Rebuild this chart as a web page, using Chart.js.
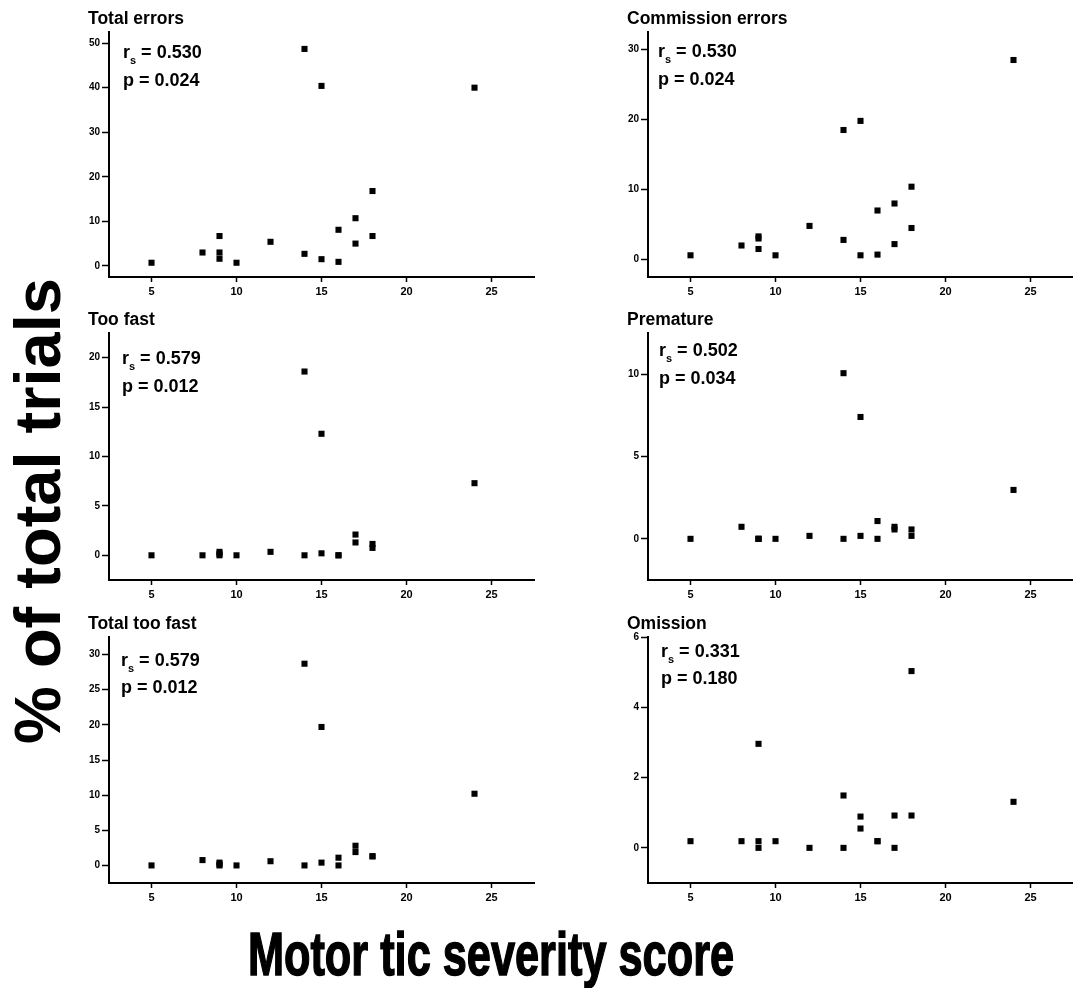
<!DOCTYPE html>
<html>
<head>
<meta charset="utf-8">
<title>Motor tic severity vs % of total trials</title>
<script src="https://cdn.jsdelivr.net/npm/chart.js@4.4.1/dist/chart.umd.min.js"></script>
<style>
  html { overflow: hidden; }
  body { margin: 0; width: 1073px; height: 988px; background: #fff; overflow: hidden; position: relative; font-family: "Liberation Sans", Arial, sans-serif; }
  .panel { position: absolute; }
  #yTitle { position: absolute; left: 37px; top: 511px; font-size: 65px; font-weight: bold; line-height: 1; white-space: nowrap; transform: translate(-50%, -50%) rotate(-90deg); }
  #xTitle { position: absolute; left: 491px; top: 924px; font-size: 61px; font-weight: bold; line-height: 1; white-space: nowrap; -webkit-text-stroke: 1.5px #000; transform: translateX(-50%) scaleX(0.71); }
</style>
</head>
<body>
<div id="yTitle">% of total trials</div>
<div id="xTitle">Motor tic severity score</div>
<script>
'use strict';
// ---- data ----
let motorScore = [5, 8, 9, 9, 9, 10, 12, 14, 14, 15, 15, 16, 16, 17, 17, 18, 18, 24];

let totalErrors    = [0.7, 3.0, 6.7, 3.0, 1.6, 0.7, 5.4, 48.7, 2.7, 40.4, 1.5, 8.1, 0.9, 10.7, 5.0, 16.8, 6.7, 40.0];
let commission     = [0.6, 2.0, 3.3, 3.0, 1.5, 0.6, 4.8, 18.5, 2.8, 19.8, 0.6, 7.0, 0.7, 8.0, 2.2, 10.4, 4.5, 28.5];
let tooFast        = [0, 0, 0.35, 0.15, 0, 0, 0.35, 18.6, 0, 12.3, 0.2, 0, 0, 2.1, 1.3, 1.15, 0.75, 7.3];
let premature      = [0, 0.73, 0, 0, 0, 0, 0.18, 10.06, 0, 7.4, 0.18, 1.08, 0, 0.73, 0.57, 0.57, 0.18, 2.97];
let totalTooFast   = [0, 0.76, 0.4, 0.15, 0, 0, 0.6, 28.7, 0, 19.7, 0.4, 1.1, 0, 2.8, 1.9, 1.3, 1.3, 10.2];
let omission       = [0.19, 0.19, 2.96, 0.19, 0, 0.19, 0, 1.49, 0, 0.89, 0.55, 0.19, 0.19, 0.92, 0, 5.03, 0.92, 1.31];

let panelTitles = ['Total errors', 'Commission errors', 'Too fast', 'Premature', 'Total too fast', 'Omission'];
let panelValues = [totalErrors, commission, tooFast, premature, totalTooFast, omission];
let rsValues = ['0.530', '0.530', '0.579', '0.502', '0.579', '0.331'];
let pValues = ['0.024', '0.024', '0.012', '0.034', '0.012', '0.180'];

let xTicks = [5, 10, 15, 20, 25];
let yTicks = [
  [0, 10, 20, 30, 40, 50],
  [0, 10, 20, 30],
  [0, 5, 10, 15, 20],
  [0, 5, 10],
  [0, 5, 10, 15, 20, 25, 30],
  [0, 2, 4, 6]
];
let yMin = [-2.5, -2.5, -2.5, -2.5, -2.5, -1];
let yMax = [52.5, 32.5, 22.5, 12.5, 32.5, 6];
let xMin = 2.5;
let xMax = 27.5;
// ---- end data ----

// layout: chart area of each panel in page pixels
let boxes = [
  { left: 109, top: 32, width: 425, height: 245, dx: 14, ry: 26, py: 54 },
  { left: 648, top: 32, width: 425, height: 245, dx: 10, ry: 25, py: 53 },
  { left: 109, top: 333, width: 425, height: 247, dx: 13, ry: 31, py: 59 },
  { left: 648, top: 333, width: 425, height: 247, dx: 11, ry: 23, py: 51 },
  { left: 109, top: 637, width: 425, height: 246, dx: 12, ry: 29, py: 56 },
  { left: 648, top: 637, width: 425, height: 246, dx: 13, ry: 20, py: 47 }
];
let axisW = 30;
let axisH = 30;
let padTop = 32;
let padRight = 8;
let fontFamily = '"Liberation Sans", Arial, sans-serif';

// draws panel title and the r_s / p annotation
let panelText = {
  id: 'panelText',
  afterDraw(chart, args, opts) {
    let ctx = chart.ctx;
    let a = chart.chartArea;
    ctx.save();
    ctx.fillStyle = '#000';
    ctx.textAlign = 'left';
    ctx.textBaseline = 'alphabetic';
    ctx.font = 'bold 17.5px ' + fontFamily;
    ctx.fillText(opts.title, a.left - 21, a.top - 8);

    let x = a.left + opts.dx;
    ctx.font = 'bold 18px ' + fontFamily;
    ctx.fillText('r', x, a.top + opts.ry);
    let rw = ctx.measureText('r').width;
    ctx.font = 'bold 11px ' + fontFamily;
    ctx.fillText('s', x + rw, a.top + opts.ry + 6);
    let sw = ctx.measureText('s').width;
    ctx.font = 'bold 18px ' + fontFamily;
    ctx.fillText(' = ' + opts.rs, x + rw + sw, a.top + opts.ry);
    ctx.fillText('p = ' + opts.p, x, a.top + opts.py);
    ctx.restore();
  }
};

function axisStyle(tickLength, fontSize) {
  return {
    grid: { drawOnChartArea: false, drawTicks: true, tickLength: tickLength, tickColor: '#000', tickWidth: 1.5 },
    border: { display: true, color: '#000', width: 2 },
    ticks: { color: '#000', padding: 2, maxRotation: 0, font: { family: fontFamily, size: fontSize, weight: 'bold' } }
  };
}

function makePanel(i) {
  let box = boxes[i];
  let w = box.width + axisW + padRight;
  let h = box.height + padTop + axisH;
  let wrap = document.createElement('div');
  wrap.className = 'panel';
  wrap.style.left = (box.left - axisW) + 'px';
  wrap.style.top = (box.top - padTop) + 'px';
  let canvas = document.createElement('canvas');
  canvas.width = w;
  canvas.height = h;
  canvas.style.width = w + 'px';
  canvas.style.height = h + 'px';
  wrap.appendChild(canvas);
  document.body.appendChild(wrap);

  let points = [];
  for (let k = 0; k < motorScore.length; k++) {
    points.push({ x: motorScore[k], y: panelValues[i][k] });
  }

  let xAxis = axisStyle(5, 11);
  xAxis.type = 'linear';
  xAxis.min = xMin;
  xAxis.max = xMax;
  xAxis.ticks.padding = 3;
  xAxis.afterBuildTicks = s => { s.ticks = xTicks.map(v => ({ value: v })); };
  xAxis.afterFit = s => { s.height = axisH; };

  let yAxis = axisStyle(7, 10);
  yAxis.type = 'linear';
  yAxis.min = yMin[i];
  yAxis.max = yMax[i];
  yAxis.afterBuildTicks = s => { s.ticks = yTicks[i].map(v => ({ value: v })); };
  yAxis.afterFit = s => { s.width = axisW; };

  new Chart(canvas, {
    type: 'scatter',
    data: {
      datasets: [{
        data: points,
        backgroundColor: '#000',
        borderWidth: 0,
        pointStyle: 'rect',
        pointRadius: 4.3,
        pointHoverRadius: 4.3
      }]
    },
    options: {
      responsive: false,
      animation: false,
      events: [],
      layout: { padding: { left: 0, top: padTop, right: padRight, bottom: 0 } },
      scales: { x: xAxis, y: yAxis },
      plugins: {
        legend: { display: false },
        tooltip: { enabled: false },
        panelText: {
          title: panelTitles[i], rs: rsValues[i], p: pValues[i],
          dx: box.dx, ry: box.ry, py: box.py
        }
      }
    },
    plugins: [panelText]
  });
}

for (let i = 0; i < panelTitles.length; i++) {
  makePanel(i);
}
</script>
</body>
</html>
